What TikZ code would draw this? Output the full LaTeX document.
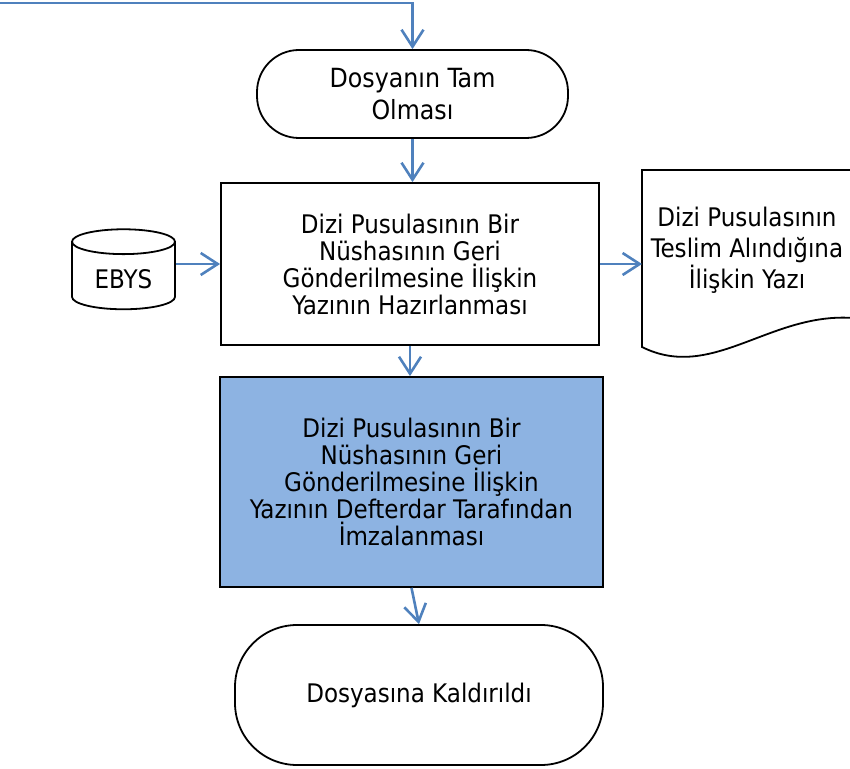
\documentclass[tikz,border=0pt]{standalone}
\usepackage{fontspec}
\setmainfont{DejaVu Sans Condensed}
\usetikzlibrary{shapes.geometric,arrows.meta}
\definecolor{okmavi}{RGB}{79,129,189}
\definecolor{kutumavi}{RGB}{141,179,226}

\begin{document}
\begin{tikzpicture}[x=0.5pt, y=-0.5pt, line width=0.9pt,
  every node/.append style={font=\fontsize{12.8}{13.5}\selectfont, align=center},
  kutu/.style={draw, minimum width=189pt, minimum height=81pt},
  ucnokta/.style={draw, rounded corners=21pt},
  akis/.style={draw=okmavi, line width=1.3pt, -{Straight Barb[length=8.5pt,width=11pt]}}]
  \useasboundingbox (0,0) rectangle (850,769);
  % basla
  \coordinate (giris) at (0,3);
  \node[ucnokta, minimum width=155.5pt, minimum height=44pt,
    font=\fontsize{13.2}{16}\selectfont] (basla) at (412.5,94) {Dosyanın Tam\\Olması};
  % hazirlama
  \node[kutu] (hazirla) at (410,264) {Dizi Pusulasının Bir\\Nüshasının Geri\\Gönderilmesine İlişkin\\Yazının Hazırlanması};
  \node[draw, cylinder, shape border rotate=90, aspect=0.35,
    minimum width=51.5pt, minimum height=40pt] (ebys) at (123.5,279) {EBYS};
  % belge
  \coordinate (belgesol) at (642,170);
  \draw (853,170) -- (belgesol) -- (642,347) .. controls (712,382) and (770,312) .. (853,318);
  \node[font=\fontsize{12.8}{15.5}\selectfont] (belge) at (747,250) {Dizi Pusulasının\\Teslim Alındığına\\İlişkin Yazı};
  % imza
  \node[kutu, fill=kutumavi, minimum width=191.5pt, minimum height=105pt] (imza) at (411.5,482)
    {Dizi Pusulasının Bir\\Nüshasının Geri\\Gönderilmesine İlişkin\\Yazının Defterdar Tarafından\\İmzalanması};
  % bitis
  \node[ucnokta, rounded corners=31pt, minimum width=184pt, minimum height=70pt] (bitis) at (419,695) {Dosyasına Kaldırıldı};
  % oklar
  \draw[akis] (giris) -| (basla.north);
  \draw[akis] (basla.south) -- (basla.south |- hazirla.north);
  \draw[akis] (ebys.east |- hazirla.west) -- (hazirla.west);
  \draw[akis] (hazirla.east) -- (hazirla.east -| belgesol);
  \draw[akis] (hazirla.south) -- (hazirla.south |- imza.north);
  \draw[akis] (imza.south) -- (bitis.north);
\end{tikzpicture}
\end{document}
